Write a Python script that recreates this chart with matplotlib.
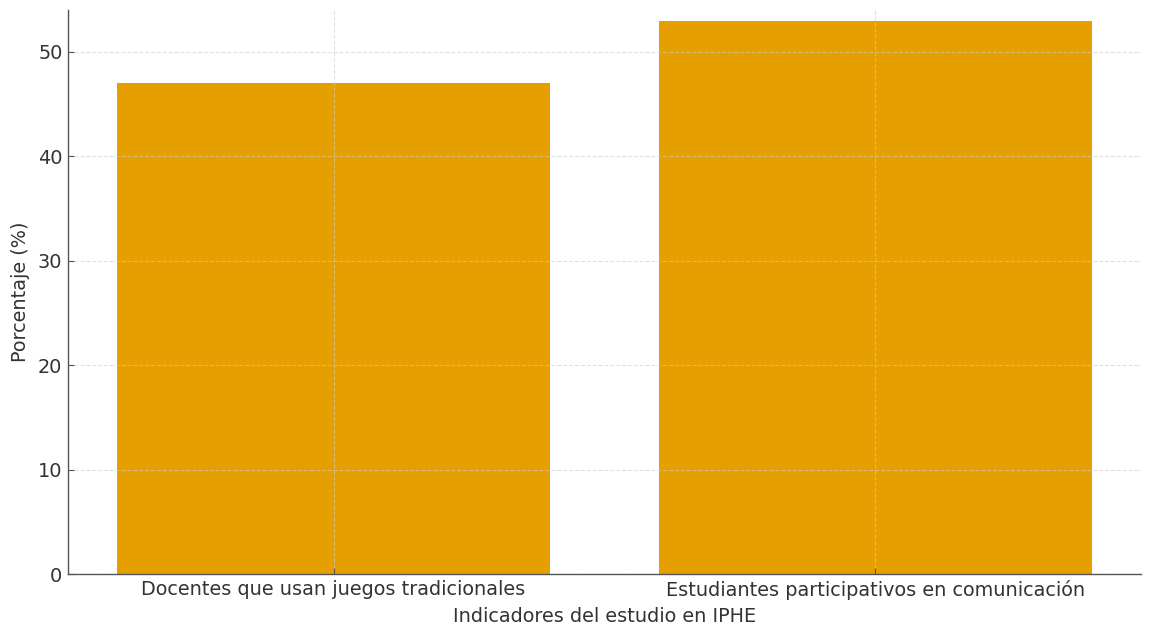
import matplotlib
matplotlib.use('Agg')
import matplotlib.pyplot as plt

plt.rcParams['font.family'] = ['DejaVu Sans']

categories = ['Docentes que usan juegos tradicionales',
              'Estudiantes participativos en comunicación']
values = [47, 53]

BAR_COLOR = '#E69F00'
TEXT_COLOR = '#333333'
FONT_SIZE = 13.9

fig = plt.figure(figsize=(11.53, 6.29), dpi=100)
ax = fig.add_axes([0.059, 0.0874, 0.9306, 0.8966])

ax.bar(categories, values, width=0.8, color=BAR_COLOR, zorder=1)
ax.set_ylim(0, 54)
ax.set_xlim(-0.49, 1.49)

# faint dashed grid drawn over the bars
ax.grid(True, linestyle='--', linewidth=0.8, color='#cccccc', alpha=0.6, zorder=2)
ax.set_axisbelow(False)

for side in ['top', 'right']:
    ax.spines[side].set_visible(False)
for side in ['left', 'bottom']:
    ax.spines[side].set_color('#555555')
    ax.spines[side].set_linewidth(1.0)

ax.tick_params(axis='both', direction='in', labelsize=FONT_SIZE, colors='#555555',
               labelcolor=TEXT_COLOR, length=4, pad=4)
ax.set_yticks([0, 10, 20, 30, 40, 50])

ax.set_xlabel('Indicadores del estudio en IPHE', fontsize=FONT_SIZE, color=TEXT_COLOR, labelpad=5)
ax.set_ylabel('Porcentaje (%)', fontsize=FONT_SIZE, color=TEXT_COLOR, labelpad=6)

fig.savefig('out.png', dpi=100)
